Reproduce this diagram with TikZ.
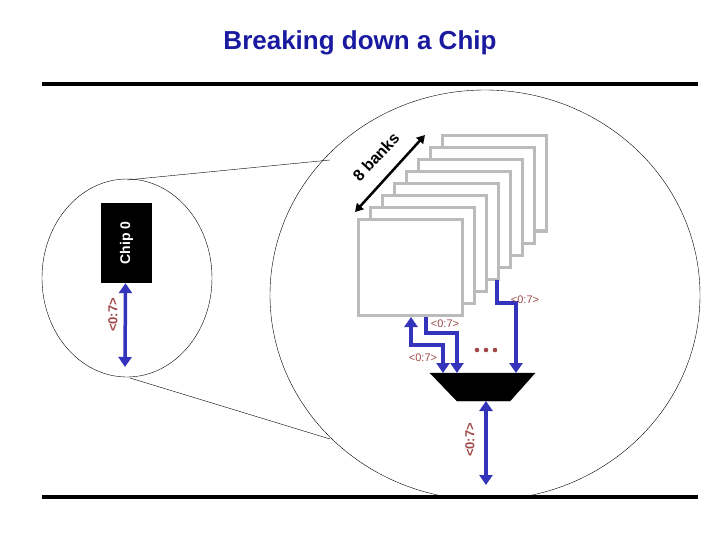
\documentclass[tikz,border=0pt]{standalone}
\usepackage{fontspec}
\setmainfont{Liberation Sans}
\usetikzlibrary{arrows.meta}
\begin{document}
\definecolor{wire}{HTML}{3333BB}
\definecolor{lab}{HTML}{A04848}
\definecolor{ttl}{HTML}{1A1AA0}
\definecolor{bank}{HTML}{BBBBBB}
\begin{tikzpicture}[x=1pt,y=-1pt,
  bus/.style={draw=wire,line width=3.5pt,-{Triangle[length=10pt,width=13pt]}},
  bbus/.style={bus,{Triangle[length=10pt,width=13pt]}-{Triangle[length=10pt,width=13pt]}},
  lbl/.style={text=lab,font=\fontsize{11}{11}\selectfont,inner sep=1pt},
  rlbl/.style={lbl,font=\bfseries\fontsize{13}{13}\selectfont,rotate=90},
  bk/.style={draw=bank,line width=3pt,fill=white}]
\useasboundingbox (0,0) rectangle (720,540);
\node[text=ttl,font=\bfseries\fontsize{26}{26}\selectfont] (title) at (360,43) {Breaking down a Chip};
\draw[line width=4pt] (42,84) coordinate (t1) -- (698,84) coordinate (t2);
\draw[line width=4pt] (42,497) coordinate (b1) -- (698,497) coordinate (b2);
% magnifier
\draw[thin] (127,278) ellipse [x radius=85,y radius=99];
\begin{scope}
\clip (0,86) rectangle (720,495);
\draw[thin] (485,295) ellipse [x radius=215,y radius=205];
\end{scope}
\coordinate (s1) at (127,180); \coordinate (l1) at (330,160);
\coordinate (s2) at (130,378); \coordinate (l2) at (330,439);
\draw[thin] (s1) -- (l1); \draw[thin] (s2) -- (l2);
% chip
\node[fill=black,minimum width=51pt,minimum height=80pt,inner sep=0] (chip) at (126.5,243) {};
\node[text=white,font=\bfseries\fontsize{14}{14}\selectfont,rotate=90] (chiplbl) at (chip) {Chip 0};
\coordinate (ca) at (125,367);
\draw[bbus] (chip.south) ++(-1,0) coordinate (cs) (cs) -- (ca);
\node[rlbl] (l0) at (113,315) {<0:7>};
% banks
\foreach \k in {7,...,0}{
  \node[bk,minimum width=104pt,minimum height=95pt,inner sep=0] (bank\k) at ({410+12*\k},{267.5-12*\k}) {};
}
\draw[line width=2.5pt,{Triangle[length=8pt,width=9pt]}-{Triangle[length=8pt,width=9pt]}] (355,212) coordinate (a1) -- (425,135) coordinate (a2);
\node[font=\bfseries\fontsize{16}{16}\selectfont,rotate=47,inner sep=0] (eight) at (376,157) {8 banks};
% mux
\draw[fill=black] (430,373) coordinate (m1) -- (535,373) -- (510,401) -- (457,401) -- cycle;
\coordinate (mb) at (486,401);
\coordinate (mbe) at (486,485);
\draw[bbus] (mb) -- (mbe);
\node[rlbl] (l4) at (470,440) {<0:7>};
% wires
\coordinate (w1) at (443,373);
\draw[bbus] (w1) -- (443,345) -- (411,345) -- (411,317);
\draw[bus] (426,317) -- (426,333) -- (457,333) -- (457,373);
\draw[bus] (497,280) -- (497,303) -- (516,303) -- (516,373);
\node[lbl] (l1t) at (525,300) {<0:7>};
\node[lbl] (l2t) at (445,324) {<0:7>};
\node[lbl] (l3t) at (423,358) {<0:7>};
\foreach \i in {0,1,2}{\fill[lab] (477+9*\i,350) circle (2.3pt);}
\end{tikzpicture}
\end{document}
